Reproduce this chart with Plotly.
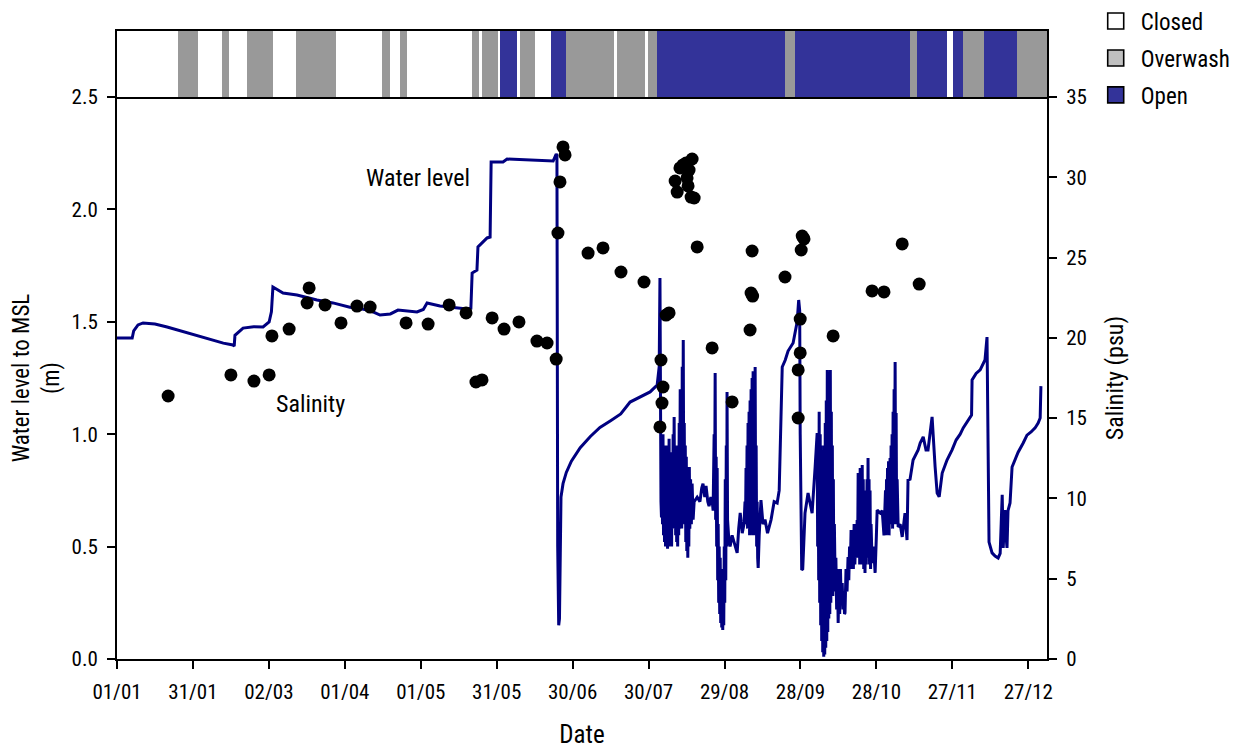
import plotly.graph_objects as go
import pandas as pd

# ---------------- data ----------------
YEAR_START = pd.Timestamp("2001-01-01")

# estuary mouth state periods (days since 01/01)
state_edges = [0.0, 24.1, 32.0, 41.5, 44.3, 51.4, 61.6, 70.7, 86.5, 104.7, 107.9, 111.8,
               114.6, 140.3, 143.0, 144.2, 150.5, 151.3, 158.0, 159.2, 165.2, 171.5, 177.4,
               196.4, 197.5, 208.6, 209.8, 213.4, 263.9, 267.9, 313.3, 316.1, 327.9, 330.3,
               334.3, 342.6, 355.6, 367.5]
state_kind = ["Closed", "Overwash", "Closed", "Overwash", "Closed", "Overwash", "Closed",
              "Overwash", "Closed", "Overwash", "Closed", "Overwash", "Closed", "Overwash",
              "Closed", "Overwash", "Closed", "Open", "Closed", "Overwash", "Closed", "Open",
              "Overwash", "Closed", "Overwash", "Closed", "Overwash", "Open", "Overwash", "Open",
              "Overwash", "Open", "Closed", "Open", "Overwash", "Open", "Overwash"]

# water level to MSL (m) -- closed period
wl_closed_day = [0.0, 6.0, 6.6, 8.3, 10.3, 15.0, 19.8, 25.0, 30.0, 36.7, 42.0, 45.8, 46.3, 46.6,
                 48.0, 49.8, 54.0, 57.7, 60.1, 61.0, 61.6, 65.6, 71.1, 79.0, 85.3, 88.1, 92.0,
                 94.8, 100.0, 103.9, 108.0, 111.0, 115.0, 118.5, 121.0, 122.5, 127.6, 133.0,
                 138.3, 139.8, 140.3, 142.2, 142.6, 146.2, 147.4, 147.8, 152.5, 154.1, 160.0,
                 166.0, 172.3, 173.5, 173.8]
wl_closed_level = [1.428, 1.428, 1.46, 1.486, 1.495, 1.49, 1.477, 1.46, 1.441, 1.419, 1.405,
                   1.397, 1.392, 1.44, 1.455, 1.472, 1.478, 1.477, 1.499, 1.544, 1.655, 1.628,
                   1.619, 1.597, 1.584, 1.575, 1.565, 1.561, 1.55, 1.53, 1.535, 1.552, 1.548,
                   1.544, 1.555, 1.584, 1.57, 1.565, 1.557, 1.56, 1.717, 1.73, 1.833, 1.873,
                   1.877, 2.211, 2.211, 2.224, 2.22, 2.218, 2.215, 2.246, 2.24]

# drop after breaching and recovery
wl_drop_day = [174.1, 174.3, 174.5, 174.8, 175.0, 175.4, 176.2, 177.5, 179.5, 183.0, 187.0,
               190.8, 195.0, 199.0, 202.7, 206.6, 210.6, 213.4, 214.2]
wl_drop_level = [0.5, 0.2, 0.15, 0.18, 0.35, 0.72, 0.78, 0.83, 0.88, 0.94, 0.99, 1.03, 1.06,
                 1.09, 1.143, 1.165, 1.188, 1.219, 1.3]

# first open (tidal) period
wl_open1_day = [214.5, 214.7, 214.9, 215.1, 215.3, 215.5, 215.7, 215.9, 216.1, 216.3, 216.5,
                216.7, 216.9, 217.1, 217.3, 217.5, 217.7, 217.9, 218.1, 218.3, 218.5, 218.7,
                218.9, 219.1, 219.3, 219.5, 219.7, 219.9, 220.1, 220.3, 220.5, 220.7, 220.9,
                221.1, 221.3, 221.5, 221.7, 221.9, 222.1, 222.3, 222.5, 222.7, 222.9, 223.1,
                223.3, 223.5, 223.7, 223.9, 224.1, 224.3, 224.5, 224.7, 224.9, 225.1, 225.3,
                225.5, 225.7, 225.9, 226.1, 226.3, 226.6, 226.9, 227.2, 227.6, 228.0, 229.2,
                230.3, 231.0, 231.5, 232.2, 232.7, 233.4, 233.9, 234.6, 235.1, 235.5, 235.7,
                235.9, 236.1, 236.3, 236.5, 236.7, 236.9, 237.1, 237.3, 237.5, 237.7, 237.9,
                238.1, 238.3, 238.5, 238.7, 238.9, 239.1, 239.3, 239.5, 239.7, 239.9, 240.1,
                240.3, 240.5, 240.7, 240.9, 241.0, 241.2, 241.6, 242.2, 243.0, 244.2, 245.0,
                245.6, 246.2, 247.0, 247.7, 248.1, 248.3, 248.5, 248.7, 248.9, 249.1, 249.3,
                249.5, 249.7, 249.9, 250.1, 250.3, 250.5, 250.7, 250.9, 251.1, 251.3, 251.5,
                251.7, 251.9, 252.1, 252.3, 252.5, 252.7, 252.9, 253.1, 253.3, 253.7, 254.4,
                255.2, 256.0, 257.0, 258.4, 259.6, 260.8, 261.6, 262.0, 262.4, 262.8, 264.0,
                265.1, 267.1, 267.9, 268.7, 269.3, 269.7, 269.9, 270.3, 270.5, 270.9, 271.8,
                273.0, 274.6, 275.8, 276.6]
wl_open1_level = [1.695, 0.85, 0.70, 0.63, 0.95, 0.60, 1.00, 0.55, 0.90, 0.52, 0.88,
                  0.50, 0.95, 0.55, 0.85, 0.49, 0.90, 0.50, 0.98, 0.55, 0.86, 0.52,
                  0.92, 0.50, 0.88, 0.60, 1.00, 0.58, 1.077, 0.60, 0.95, 0.55, 0.90,
                  0.52, 0.85, 0.50, 0.95, 0.55, 1.05, 0.60, 1.20, 0.62, 1.10, 0.58,
                  1.30, 0.65, 1.419, 0.70, 1.05, 0.60, 0.95, 0.52, 0.90, 0.48, 0.80,
                  0.45, 0.75, 0.50, 0.854, 0.58, 0.80, 0.60, 0.78, 0.62, 0.70, 0.72,
                  0.70, 0.76, 0.78, 0.72, 0.77, 0.70, 0.68, 0.72, 0.707, 0.66, 0.85,
                  1.00, 0.70, 1.272, 0.62, 0.90, 0.50, 0.85, 0.35, 0.60, 0.25, 0.50,
                  0.20, 0.45, 0.16, 0.40, 0.14, 0.35, 0.129, 0.30, 0.15, 0.50, 0.25,
                  0.80, 0.35, 0.95, 0.50, 1.188, 0.62, 0.55, 0.50, 0.55, 0.50, 0.472,
                  0.58, 0.65, 0.56, 0.60, 0.70, 0.60, 0.85, 0.60, 0.95, 0.58, 1.05,
                  0.60, 1.10, 0.55, 1.15, 0.58, 1.20, 0.60, 1.25, 0.55, 1.28, 0.60,
                  1.20, 0.55, 1.299, 0.65, 0.95, 0.50, 0.70, 0.45, 0.405, 0.55, 0.707,
                  0.60, 0.62, 0.56, 0.62, 0.70, 0.694, 0.75, 0.95, 1.20, 1.299, 1.33,
                  1.37, 1.406, 1.46, 1.50, 1.597, 1.55, 1.00, 0.50, 0.396, 0.40, 0.649,
                  0.738, 0.649, 0.854, 1.005]

# second open period to year end
wl_open2_day = [276.8, 277.0, 277.2, 277.4, 277.6, 277.8, 278.0, 278.2, 278.4, 278.6, 278.8,
                279.0, 279.2, 279.4, 279.6, 279.8, 280.0, 280.2, 280.4, 280.6, 280.8, 281.0,
                281.2, 281.4, 281.6, 281.8, 282.0, 282.2, 282.4, 282.6, 282.8, 283.0, 283.2,
                283.4, 283.7, 284.0, 284.3, 284.6, 284.9, 285.2, 285.5, 285.8, 286.1, 286.5,
                286.8, 287.1, 287.4, 287.6, 288.0, 288.4, 288.8, 289.1, 289.4, 289.7, 290.0,
                290.3, 290.6, 290.9, 291.2, 291.5, 291.8, 292.1, 292.4, 292.6, 292.8, 293.0,
                293.2, 293.4, 293.6, 293.8, 294.0, 294.2, 294.4, 294.6, 294.8, 295.0, 295.2,
                295.5, 295.8, 296.0, 296.3, 296.5, 296.7, 296.9, 297.1, 297.3, 297.5, 297.7,
                297.9, 298.3, 298.9, 299.5, 300.0, 300.3, 301.5, 302.3, 303.0, 303.6, 303.8,
                304.0, 304.2, 304.4, 304.6, 304.8, 305.0, 305.2, 305.4, 305.6, 305.8, 306.0,
                306.2, 306.4, 306.6, 306.8, 307.0, 307.2, 307.4, 307.6, 307.8, 308.0, 308.2,
                308.6, 309.4, 310.2, 311.3, 312.1, 312.5, 313.3, 314.5, 316.5, 317.3, 318.5,
                319.6, 320.4, 322.0, 323.2, 324.0, 324.8, 326.0, 327.9, 329.9, 331.5, 333.1,
                334.3, 335.8, 337.0, 337.6, 337.8, 339.4, 341.0, 342.9, 343.7, 344.1, 344.5,
                345.7, 346.9, 348.1, 348.9, 349.3, 349.7, 350.1, 350.5, 350.8, 351.2, 351.6,
                352.0, 352.8, 353.6, 354.8, 356.0, 358.0, 359.5, 361.1, 362.7, 363.9, 364.7,
                365.0]
wl_open2_level = [0.50, 0.90, 0.35, 1.10, 0.25, 1.00, 0.15, 0.95, 0.08, 0.90, 0.03,
                  0.85, 0.01, 0.95, 0.02, 1.05, 0.05, 1.15, 0.08, 1.286, 0.12, 1.20,
                  0.18, 1.25, 0.20, 1.286, 0.25, 1.10, 0.30, 0.95, 0.28, 0.80, 0.30,
                  0.60, 0.351, 0.45, 0.22, 0.40, 0.16, 0.35, 0.20, 0.40, 0.25, 0.338,
                  0.22, 0.30, 0.20, 0.205, 0.40, 0.30, 0.454, 0.35, 0.50, 0.40, 0.574,
                  0.42, 0.55, 0.40, 0.60, 0.42, 0.55, 0.45, 0.618, 0.50, 0.827, 0.45,
                  0.80, 0.42, 0.85, 0.45, 0.80, 0.42, 0.863, 0.45, 0.80, 0.40, 0.75,
                  0.383, 0.70, 0.42, 0.80, 0.45, 0.894, 0.45, 0.80, 0.42, 0.75, 0.40,
                  0.60, 0.427, 0.50, 0.383, 0.55, 0.663, 0.649, 0.66, 0.55, 0.75, 0.55,
                  0.80, 0.60, 0.85, 0.58, 0.88, 0.55, 0.85, 0.894, 0.60, 0.95, 0.62,
                  1.00, 0.58, 1.10, 0.60, 1.20, 0.62, 1.321, 0.70, 1.094, 0.60, 0.80,
                  0.587, 0.60, 0.543, 0.649, 0.529, 0.796, 0.80, 0.885, 0.930, 0.961, 0.988,
                  0.93, 0.93, 1.077, 0.854, 0.738, 0.721, 0.827, 0.885, 0.930, 0.974, 1.000,
                  1.028, 1.054, 1.072, 1.085, 1.241, 1.270, 1.286, 1.330, 1.432, 0.80, 0.52,
                  0.472, 0.458, 0.449, 0.47, 0.60, 0.730, 0.494, 0.60, 0.663, 0.55, 0.494,
                  0.66, 0.694, 0.854, 0.885, 0.92, 0.961, 0.996, 1.010, 1.028, 1.050, 1.072,
                  1.214]

# salinity samples (psu)
sal_day = [20.2, 45.0, 54.1, 60.1, 61.2, 68.0, 75.1, 75.9, 82.2, 88.5, 94.8, 100.0, 114.2,
           122.9, 131.2, 137.9, 141.8, 144.2, 148.2, 152.9, 158.8, 165.9, 169.9, 173.5, 174.2,
           175.0, 176.2, 177.0, 186.1, 192.0, 199.1, 208.2, 214.9, 215.7, 215.3, 214.5, 216.9,
           218.1, 220.5, 221.3, 222.4, 223.6, 224.8, 226.0, 225.2, 225.6, 227.2, 226.8, 228.0,
           229.2, 235.1, 243.0, 250.1, 250.9, 250.5, 251.1, 263.9, 270.7, 271.4, 270.3, 269.9,
           269.9, 269.1, 269.1, 282.9, 298.3, 303.0, 310.2, 316.9]
sal_value = [16.38, 17.69, 17.31, 17.69, 20.12, 20.55, 22.17, 23.11, 22.05, 20.93, 21.98, 21.92,
             20.93, 20.86, 22.05, 21.55, 17.25, 17.38, 21.24, 20.55, 20.99, 19.80, 19.68, 18.68,
             26.53, 29.71, 31.89, 31.39, 25.28, 25.60, 24.10, 23.48, 18.62, 16.94, 15.94, 14.45,
             21.42, 21.55, 29.77, 29.08, 30.58, 30.77, 30.89, 30.45, 29.96, 29.46, 31.14, 28.77,
             28.71, 25.66, 19.37, 16.01, 20.49, 25.41, 22.79, 22.60, 23.79, 26.34, 26.16, 25.47,
             21.17, 19.06, 18.00, 15.01, 20.12, 22.92, 22.86, 25.85, 23.35]

tick_days = [0, 30, 60, 90, 120, 150, 180, 210, 240, 270, 300, 330, 360]

state_colors = {"Closed": "#ffffff", "Overwash": "#999999", "Open": "#333399"}
legend_colors = {"Closed": "#ffffff", "Overwash": "#c0c0c0", "Open": "#333399"}

for a, b in [(wl_closed_day, wl_closed_level), (wl_drop_day, wl_drop_level),
             (wl_open1_day, wl_open1_level), (wl_open2_day, wl_open2_level),
             (sal_day, sal_value)]:
    assert len(a) == len(b), (len(a), len(b))
assert len(state_edges) == len(state_kind) + 1

wl_day = wl_closed_day + wl_drop_day + wl_open1_day + wl_open2_day
wl_level = wl_closed_level + wl_drop_level + wl_open1_level + wl_open2_level

# ---------------- helpers ----------------
def to_date(days):
    return [YEAR_START + pd.Timedelta(days=float(d)) for d in days]

FONT = "Liberation Sans Narrow, Arial Narrow, Roboto Condensed, Roboto, sans-serif"

fig = go.Figure()

# state strip: vertical bars centred on each period, width = period length
mids = to_date([(a + b) / 2 for a, b in zip(state_edges[:-1], state_edges[1:])])
widths_ms = [(b - a) * 86400000.0 for a, b in zip(state_edges[:-1], state_edges[1:])]
fig.add_trace(go.Bar(
    x=mids, y=[1.0] * len(mids), base=[-0.5] * len(mids), width=widths_ms,
    marker=dict(color=[state_colors[k] for k in state_kind], line=dict(width=0)),
    xaxis="x2", yaxis="y2", showlegend=False, hoverinfo="skip"))

# water level
fig.add_trace(go.Scatter(
    x=to_date(wl_day), y=wl_level, mode="lines",
    line=dict(color="#000080", width=3), showlegend=False, xaxis="x", yaxis="y"))

# salinity
fig.add_trace(go.Scatter(
    x=to_date(sal_day), y=sal_value, mode="markers",
    marker=dict(color="black", size=13), showlegend=False, xaxis="x", yaxis="y3"))

# legend entries
for k in ["Closed", "Overwash", "Open"]:
    fig.add_trace(go.Scatter(
        x=[None], y=[None], mode="markers", name=k, legendgroup=k,
        marker=dict(symbol="square", size=16, color=legend_colors[k],
                    line=dict(color="black", width=1.6)),
        xaxis="x", yaxis="y"))

x_range = [YEAR_START, YEAR_START + pd.Timedelta(days=367.4)]
main_top = 562 / 628

axis_common = dict(showline=True, linecolor="black", linewidth=2, ticks="outside",
                   ticklen=8, tickwidth=2, tickcolor="black", showgrid=False, zeroline=False,
                   automargin=False, ticklabelstandoff=5,
                   tickfont=dict(family=FONT, size=21, color="black"))

fig.update_layout(
    width=1245, height=751,
    margin=dict(l=109, r=206, t=23, b=100, autoexpand=False),
    paper_bgcolor="white", plot_bgcolor="white",
    font=dict(family=FONT, size=21, color="black"),
    bargap=0,
    xaxis=dict(domain=[0, 1], range=x_range, anchor="y",
               tickvals=to_date(tick_days), tickformat="%d/%m",
               title=dict(text="Date", font=dict(family=FONT, size=25), standoff=22),
               **axis_common),
    yaxis=dict(domain=[0, main_top], range=[0, 2.5], dtick=0.5, tickformat=".1f",
               anchor="x",
               title=dict(text="Water level to MSL<br>(m)", font=dict(family=FONT, size=23),
                          standoff=12),
               **axis_common),
    yaxis3=dict(range=[0, 35], dtick=5, overlaying="y", side="right", anchor="x",
                title=dict(text="Salinity (psu)", font=dict(family=FONT, size=24), standoff=20),
                **axis_common),
    xaxis2=dict(domain=[0, 1], range=x_range, anchor="y2", matches="x",
                showticklabels=False, ticks="", showline=True, mirror=True,
                linecolor="black", linewidth=2, showgrid=False, zeroline=False),
    yaxis2=dict(domain=[main_top, 1], range=[-0.5, 0.5], anchor="x2",
                showticklabels=False, ticks="", showline=True, mirror=True,
                linecolor="black", linewidth=2, showgrid=False, zeroline=False),
    legend=dict(x=1.047, y=1.05, xanchor="left", yanchor="top",
                font=dict(family=FONT, size=23), tracegroupgap=4, itemwidth=40,
                bgcolor="rgba(0,0,0,0)", itemsizing="trace"),
    annotations=[
        dict(x=YEAR_START + pd.Timedelta(days=118.9), y=2.14, xref="x", yref="y",
             text="Water level", showarrow=False, font=dict(family=FONT, size=24)),
        dict(x=YEAR_START + pd.Timedelta(days=76.3), y=1.134, xref="x", yref="y",
             text="Salinity", showarrow=False, font=dict(family=FONT, size=24)),
    ],
)

fig.write_html("out.html")
